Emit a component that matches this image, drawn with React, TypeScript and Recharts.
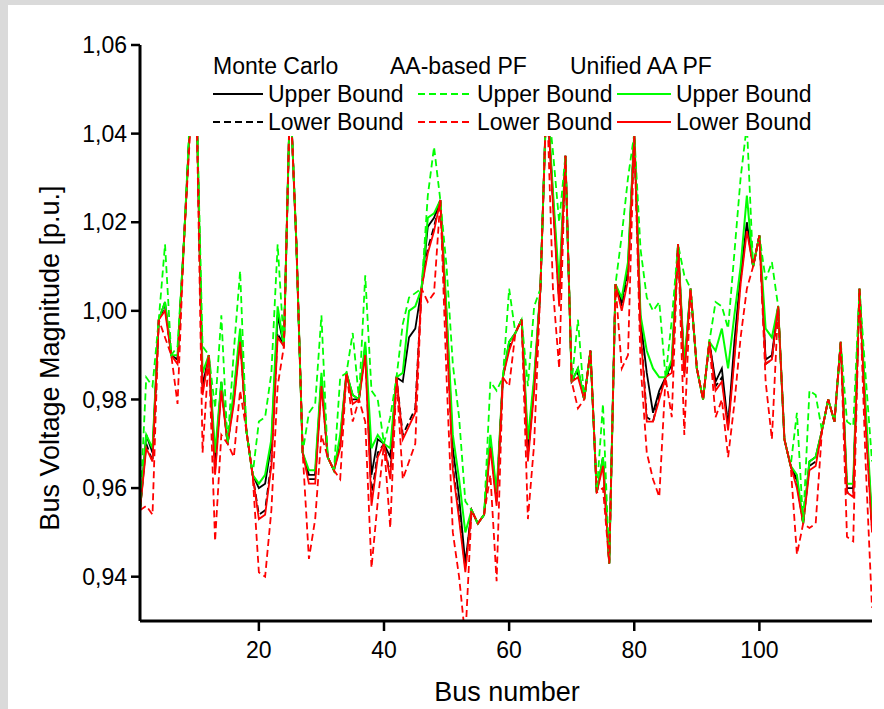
import { LineChart, Line, XAxis, YAxis } from "recharts";

// IEEE 118-bus voltage magnitude bounds [p.u.]
const buses = Array.from({ length: 118 }, (_, i) => i + 1);

const mcUpper = [
  0.955, 0.972, 0.968, 0.998, 1.002, 0.990, 0.989, 1.015, 1.043, 1.050,
  0.983, 0.990, 0.966, 0.984, 0.970, 0.981, 0.995, 0.973, 0.963, 0.960,
  0.961, 0.970, 0.999, 0.992, 1.050, 1.015, 0.968, 0.963, 0.963, 0.985,
  0.967, 0.964, 0.971, 0.986, 0.981, 0.980, 0.992, 0.963, 0.971, 0.970,
  0.967, 0.985, 0.984, 0.994, 0.996, 1.005, 1.019, 1.021, 1.025, 0.999,
  0.969, 0.958, 0.943, 0.955, 0.952, 0.954, 0.971, 0.958, 0.985, 0.993,
  0.995, 0.998, 0.969, 0.984, 1.005, 1.050, 1.026, 1.003, 1.035, 0.984,
  0.987, 0.980, 0.991, 0.959, 0.967, 0.943, 1.006, 1.002, 1.010, 1.040,
  0.998, 0.986, 0.977, 0.982, 0.985, 0.988, 1.015, 0.987, 1.005, 0.987,
  0.980, 0.993, 0.984, 0.987, 0.974, 0.993, 1.008, 1.020, 1.010, 1.017,
  0.989, 0.990, 1.001, 0.971, 0.965, 0.962, 0.952, 0.966, 0.967, 0.973,
  0.980, 0.975, 0.993, 0.960, 0.960, 1.005, 0.976, 0.952,
];

const mcLower = [
  0.955, 0.970, 0.966, 0.998, 1.001, 0.990, 0.989, 1.015, 1.043, 1.050,
  0.982, 0.990, 0.964, 0.983, 0.970, 0.980, 0.994, 0.973, 0.963, 0.954,
  0.955, 0.966, 0.995, 0.992, 1.050, 1.015, 0.968, 0.962, 0.962, 0.984,
  0.967, 0.964, 0.970, 0.986, 0.980, 0.980, 0.991, 0.958, 0.968, 0.970,
  0.963, 0.985, 0.972, 0.975, 0.978, 1.005, 1.014, 1.019, 1.025, 0.997,
  0.965, 0.954, 0.942, 0.955, 0.952, 0.954, 0.970, 0.957, 0.985, 0.992,
  0.995, 0.998, 0.967, 0.983, 1.005, 1.050, 1.025, 1.002, 1.035, 0.984,
  0.986, 0.980, 0.991, 0.959, 0.966, 0.943, 1.006, 1.001, 1.008, 1.040,
  0.997, 0.976, 0.975, 0.981, 0.985, 0.987, 1.015, 0.986, 1.005, 0.987,
  0.980, 0.993, 0.983, 0.985, 0.974, 0.990, 1.007, 1.019, 1.010, 1.017,
  0.988, 0.989, 1.001, 0.971, 0.965, 0.961, 0.952, 0.965, 0.966, 0.973,
  0.980, 0.975, 0.993, 0.959, 0.959, 1.005, 0.975, 0.951,
];

const aaUpper = [
  0.955, 0.985, 0.983, 0.998, 1.015, 0.990, 0.992, 1.015, 1.045, 1.050,
  0.992, 0.990, 0.978, 0.999, 0.970, 0.991, 1.009, 0.973, 0.963, 0.975,
  0.976, 0.986, 1.015, 0.992, 1.050, 1.015, 0.968, 0.977, 0.979, 0.999,
  0.967, 0.964, 0.985, 0.986, 0.995, 0.980, 1.008, 0.982, 0.980, 0.970,
  0.976, 0.985, 0.997, 1.003, 1.004, 1.005, 1.026, 1.037, 1.025, 1.010,
  0.988, 0.976, 0.957, 0.955, 0.952, 0.954, 0.984, 0.982, 0.985, 1.005,
  0.995, 0.998, 0.983, 1.001, 1.005, 1.050, 1.036, 1.020, 1.035, 0.984,
  0.998, 0.980, 0.991, 0.959, 0.979, 0.943, 1.006, 1.017, 1.030, 1.040,
  1.014, 1.003, 1.000, 1.002, 0.985, 0.998, 1.015, 1.008, 1.005, 0.987,
  0.980, 0.993, 1.002, 1.001, 0.996, 1.013, 1.030, 1.042, 1.010, 1.017,
  1.007, 1.011, 1.001, 0.971, 0.965, 0.977, 0.952, 0.982, 0.981, 0.973,
  0.980, 0.975, 0.993, 0.975, 0.974, 1.005, 0.985, 0.966,
];

const aaLower = [
  0.955, 0.956, 0.954, 0.998, 0.994, 0.990, 0.979, 1.015, 1.040, 1.050,
  0.968, 0.990, 0.948, 0.972, 0.970, 0.967, 0.982, 0.973, 0.963, 0.941,
  0.940, 0.955, 0.983, 0.992, 1.050, 1.015, 0.968, 0.944, 0.953, 0.972,
  0.967, 0.964, 0.962, 0.986, 0.975, 0.980, 0.975, 0.942, 0.957, 0.970,
  0.951, 0.985, 0.962, 0.966, 0.970, 1.005, 1.002, 1.004, 1.025, 0.985,
  0.950, 0.940, 0.926, 0.955, 0.952, 0.954, 0.963, 0.939, 0.985, 0.983,
  0.995, 0.998, 0.953, 0.970, 1.005, 1.050, 1.005, 0.987, 1.035, 0.984,
  0.978, 0.980, 0.991, 0.959, 0.960, 0.943, 1.006, 0.987, 0.990, 1.040,
  0.988, 0.968, 0.962, 0.958, 0.985, 0.976, 1.015, 0.972, 1.005, 0.987,
  0.980, 0.993, 0.976, 0.980, 0.967, 0.979, 0.994, 1.005, 1.010, 1.017,
  0.984, 0.971, 1.001, 0.971, 0.965, 0.945, 0.952, 0.951, 0.952, 0.973,
  0.980, 0.975, 0.993, 0.949, 0.948, 1.005, 0.965, 0.933,
];

const uniUpper = [
  0.955, 0.972, 0.969, 0.998, 1.002, 0.990, 0.990, 1.015, 1.043, 1.050,
  0.986, 0.990, 0.968, 0.984, 0.970, 0.982, 0.996, 0.973, 0.963, 0.961,
  0.963, 0.971, 1.001, 0.992, 1.050, 1.015, 0.968, 0.964, 0.964, 0.986,
  0.967, 0.964, 0.972, 0.986, 0.981, 0.980, 0.993, 0.969, 0.972, 0.970,
  0.969, 0.985, 0.986, 1.000, 1.001, 1.005, 1.021, 1.022, 1.025, 1.000,
  0.972, 0.962, 0.950, 0.955, 0.952, 0.954, 0.972, 0.959, 0.985, 0.993,
  0.995, 0.998, 0.971, 0.985, 1.005, 1.050, 1.027, 1.006, 1.035, 0.984,
  0.987, 0.980, 0.991, 0.959, 0.967, 0.943, 1.006, 1.003, 1.011, 1.040,
  0.999, 0.991, 0.987, 0.985, 0.985, 0.989, 1.015, 0.988, 1.005, 0.987,
  0.980, 0.993, 0.991, 0.996, 0.987, 0.999, 1.010, 1.026, 1.010, 1.017,
  0.996, 0.994, 1.001, 0.971, 0.965, 0.963, 0.952, 0.966, 0.967, 0.973,
  0.980, 0.975, 0.993, 0.961, 0.961, 1.005, 0.978, 0.953,
];

const uniLower = [
  0.955, 0.969, 0.966, 0.998, 1.000, 0.990, 0.988, 1.015, 1.042, 1.050,
  0.981, 0.990, 0.963, 0.982, 0.970, 0.979, 0.993, 0.973, 0.963, 0.953,
  0.954, 0.965, 0.994, 0.992, 1.050, 1.015, 0.968, 0.961, 0.961, 0.983,
  0.967, 0.964, 0.969, 0.986, 0.979, 0.980, 0.990, 0.956, 0.967, 0.970,
  0.962, 0.985, 0.971, 0.974, 0.977, 1.005, 1.013, 1.018, 1.025, 0.996,
  0.964, 0.953, 0.941, 0.955, 0.952, 0.954, 0.969, 0.956, 0.985, 0.991,
  0.995, 0.998, 0.966, 0.982, 1.005, 1.050, 1.024, 1.001, 1.035, 0.984,
  0.985, 0.980, 0.991, 0.959, 0.965, 0.943, 1.006, 1.000, 1.007, 1.040,
  0.996, 0.975, 0.975, 0.980, 0.985, 0.986, 1.015, 0.985, 1.005, 0.987,
  0.980, 0.993, 0.982, 0.984, 0.973, 0.989, 1.006, 1.018, 1.010, 1.017,
  0.988, 0.989, 1.001, 0.971, 0.965, 0.960, 0.952, 0.964, 0.965, 0.973,
  0.980, 0.975, 0.993, 0.959, 0.958, 1.005, 0.974, 0.950,
];

const xTicks = [20, 40, 60, 80, 100];
const yTicks = [0.94, 0.96, 0.98, 1.0, 1.02, 1.04, 1.06];

const FONT = "'Liberation Sans', Arial, Helvetica, sans-serif";
const DASH = "7 4";

const data = buses.map((bus, i) => ({
  bus,
  mcUpper: mcUpper[i],
  mcLower: mcLower[i],
  aaUpper: aaUpper[i],
  aaLower: aaLower[i],
  uniUpper: uniUpper[i],
  uniLower: uniLower[i],
}));

const axisLine = { stroke: "#000", strokeWidth: 3 };
const tickLine = { stroke: "#000", strokeWidth: 2.5 };
const tickText = { fill: "#000", fontSize: 23, fontFamily: FONT };

export default function App() {
  return (
    <div style={{ position: "absolute", left: 0, top: 0, width: 884, height: 709, background: "#dadada", overflow: "hidden" }}>
      <div style={{ position: "absolute", left: 8, top: 5, right: 0, bottom: 0, background: "#fff" }} />

      <div style={{ position: "absolute", left: 0, top: 0 }}>
        <LineChart width={884} height={709} data={data} margin={{ top: 45, right: 12, bottom: 0, left: 0 }}>
          <XAxis
            dataKey="bus" type="number" domain={[1, 118]} ticks={xTicks} allowDataOverflow
            height={88} tickSize={10} tickMargin={11} axisLine={axisLine} tickLine={tickLine} tick={tickText}
          />
          <XAxis xAxisId="top" orientation="top" dataKey="bus" type="number" domain={[1, 118]}
            height={0} tick={false} tickLine={false} axisLine={axisLine} />
          <YAxis
            type="number" domain={[0.93, 1.06]} ticks={yTicks} allowDataOverflow
            width={140} tickSize={9} tickMargin={4} axisLine={axisLine} tickLine={tickLine} tick={tickText}
            tickFormatter={(v: number) => v.toFixed(2).replace(".", ",")}
          />
          <YAxis yAxisId="right" orientation="right" type="number" domain={[0.93, 1.06]}
            width={0} tick={false} tickLine={false} axisLine={axisLine} />

          {/* Monte Carlo */}
          <Line dataKey="mcUpper" stroke="#000" strokeWidth={1.8} dot={false} isAnimationActive={false} />
          <Line dataKey="mcLower" stroke="#000" strokeWidth={1.8} strokeDasharray={DASH} dot={false} isAnimationActive={false} />
          {/* Unified AA PF */}
          <Line dataKey="uniUpper" stroke="#00ff00" strokeWidth={2} dot={false} isAnimationActive={false} />
          <Line dataKey="uniLower" stroke="#ff0000" strokeWidth={1.8} dot={false} isAnimationActive={false} />
          {/* AA-based PF */}
          <Line dataKey="aaUpper" stroke="#00ff00" strokeWidth={1.8} strokeDasharray={DASH} dot={false} isAnimationActive={false} />
          <Line dataKey="aaLower" stroke="#ff0000" strokeWidth={1.8} strokeDasharray={DASH} dot={false} isAnimationActive={false} />
        </LineChart>
      </div>

      {/* legend box and axis titles */}
      <svg width={884} height={709} style={{ position: "absolute", left: 0, top: 0, pointerEvents: "none" }}>
        <rect x={180} y={48} width={650} height={88} fill="#fff" />
        <g fontFamily={FONT} fontSize={23} fill="#000">
          <text x={213} y={74}>Monte Carlo</text>
          <text x={390} y={74}>AA-based PF</text>
          <text x={570} y={74}>Unified AA PF</text>

          <line x1={213} x2={263} y1={94} y2={94} stroke="#000" strokeWidth={2} />
          <text x={268} y={102}>Upper Bound</text>
          <line x1={418} x2={470} y1={94} y2={94} stroke="#00ff00" strokeWidth={2} strokeDasharray={DASH} />
          <text x={477} y={102}>Upper Bound</text>
          <line x1={617} x2={671} y1={94} y2={94} stroke="#00ff00" strokeWidth={2} />
          <text x={676} y={102}>Upper Bound</text>

          <line x1={213} x2={263} y1={122} y2={122} stroke="#000" strokeWidth={2} strokeDasharray={DASH} />
          <text x={268} y={130}>Lower Bound</text>
          <line x1={418} x2={470} y1={122} y2={122} stroke="#ff0000" strokeWidth={2} strokeDasharray={DASH} />
          <text x={477} y={130}>Lower Bound</text>
          <line x1={617} x2={671} y1={122} y2={122} stroke="#ff0000" strokeWidth={2} />
          <text x={676} y={130}>Lower Bound</text>
        </g>
        <text x={507} y={701} textAnchor="middle" fontFamily={FONT} fontSize={27} fill="#000">Bus number</text>
        <text x={59} y={358} textAnchor="middle" fontFamily={FONT} fontSize={27} fill="#000" transform="rotate(-90 59 358)">
          Bus Voltage Magnitude [p.u.]
        </text>
      </svg>
    </div>
  );
}
